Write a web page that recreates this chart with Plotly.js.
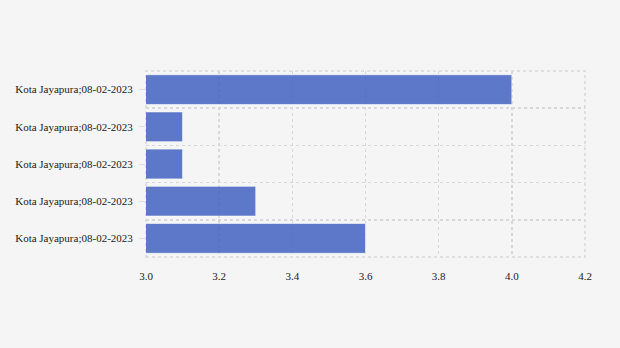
<!DOCTYPE html>
<html>
<head>
<meta charset="utf-8">
<script src="https://cdn.plot.ly/plotly-3.0.1.min.js"></script>
<style>html,body{margin:0;padding:0;background:#f5f5f5;}</style>
</head>
<body>
<div id="chart" style="width:620px;height:348px;"></div>
<script>
var labels = ["Kota Jayapura;08-02-2023","Kota Jayapura;08-02-2023","Kota Jayapura;08-02-2023","Kota Jayapura;08-02-2023","Kota Jayapura;08-02-2023"];
var values = [4.0, 3.1, 3.1, 3.3, 3.6];
var xTicks = [3.0, 3.2, 3.4, 3.6, 3.8, 4.0, 4.2];

var pos = labels.map(function(_, i){ return labels.length - 1 - i; });
var bounds = [];
for (var i = 0; i <= labels.length; i++) bounds.push(i - 0.5);

var trace = {
  type: 'bar', orientation: 'h',
  x: values, y: pos,
  marker: {color: 'rgba(66,98,192,0.85)', line: {color: 'rgba(255,255,255,0.6)', width: 1}},
  hoverinfo: 'x'
};
var gridTrace = {
  type: 'scatter', x: [], y: [], yaxis: 'y2', showlegend: false, hoverinfo: 'skip'
};

var gridColor = '#d8d8d8';
var layout = {
  width: 620, height: 348,
  margin: {l: 146, r: 35, t: 71, b: 91},
  paper_bgcolor: '#f5f5f5', plot_bgcolor: '#f5f5f5',
  font: {family: '"Liberation Serif", "Times New Roman", serif', size: 11, color: '#1a1a1a'},
  showlegend: false,
  bargap: 0.2,
  xaxis: {
    range: [3.0, 4.2], tickvals: xTicks, ticktext: xTicks.map(function(v){return v.toFixed(1);}),
    showgrid: true, gridcolor: gridColor, griddash: '3px,3px', gridwidth: 1.5,
    zeroline: false, showline: false, ticks: '', ticklen: 0, ticklabelstandoff: 11
  },
  yaxis: {
    range: [-0.5, labels.length - 0.5], tickvals: pos, ticktext: labels,
    showgrid: false, zeroline: false, showline: false,
    ticks: 'outside', ticklen: 6, tickcolor: '#dddddd', ticklabelstandoff: 4
  },
  yaxis2: {
    overlaying: 'y', matches: 'y', tickvals: bounds, showticklabels: false,
    showgrid: true, gridcolor: gridColor, griddash: '3px,3px', gridwidth: 1.5,
    zeroline: false, showline: false, ticks: ''
  },
  shapes: [{
    type: 'rect', xref: 'paper', yref: 'paper', x0: 0, x1: 1, y0: 0, y1: 1,
    line: {color: gridColor, width: 1.5, dash: '3px,3px'}, layer: 'below'
  }]
};
Plotly.newPlot('chart', [trace, gridTrace], layout, {displayModeBar: false, staticPlot: true});
</script>
</body>
</html>
